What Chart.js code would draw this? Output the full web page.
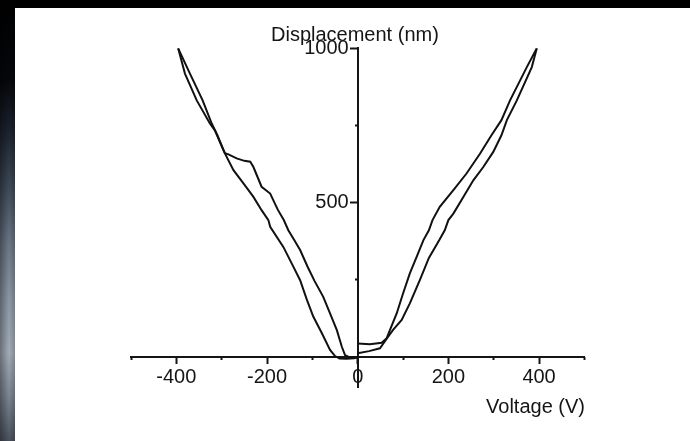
<!DOCTYPE html>
<html>
<head>
<meta charset="utf-8">
<script src="https://cdn.jsdelivr.net/npm/chart.js@4"></script>
<style>
  html, body { margin: 0; padding: 0; background: #000; }
  #stage { position: relative; width: 690px; height: 441px; overflow: hidden; background: #000; }
  #strip { position: absolute; left: 0; top: 0; width: 15px; height: 441px;
    background:
      linear-gradient(to right, rgba(0,0,0,0.35), rgba(0,0,0,0) 60%, rgba(0,0,0,0.2)),
      linear-gradient(to bottom, #000 0%, #05070b 18%, #1c2430 30%, #3d4756 42%, #6a7585 55%, #8c97a6 68%, #a2acb8 80%, #7a8492 90%, #4a525e 100%); }
  #panel { position: absolute; left: 15px; top: 8px; right: 0; bottom: 0; background: #fff; }
  #wrap { position: absolute; left: 0; top: 0; width: 690px; height: 441px; }
  .atitle { position: absolute; font-family: "Liberation Sans", Arial, sans-serif; font-size: 20px; line-height: 20px; color: #151515; white-space: nowrap; }
</style>
</head>
<body>
<div id="stage">
  <div id="strip"></div>
  <div id="panel"></div>
  <div id="wrap"><canvas id="c" width="690" height="441"></canvas></div>
  <div class="atitle" style="left:271px; top:24px;">Displacement (nm)</div>
  <div class="atitle" style="right:105px; top:396px;">Voltage (V)</div>
</div>
<script>
// ---- data (Voltage in V, Displacement in nm) ----
const leftOuterV = [-396, -381, -355, -326, -315, -296, -289, -274, -252, -230, -212, -197, -193, -164, -142, -127, -112, -98, -79, -61, -50, -40, -25, -8, 0];
const leftOuterD = [1000, 918, 831, 756, 734, 669, 648, 605, 562, 518, 475, 443, 421, 356, 292, 248, 184, 130, 76, 22, 2, -6, -7, -5, -2];

const leftInnerV = [-396, -370, -342, -322, -310, -293, -285, -267, -250, -237, -230, -212, -193, -186, -176, -163, -153, -140, -127, -110, -95, -76, -61, -46, -35, -28, -15, 0];
const leftInnerD = [1000, 918, 831, 756, 720, 660, 656, 643, 635, 632, 615, 551, 529, 507, 476, 443, 410, 378, 346, 290, 245, 194, 140, 86, 32, 5, -4, -2];

const rightUpperV = [0, 27, 53, 64, 71, 86, 100, 115, 130, 145, 157, 165, 181, 211, 240, 270, 295, 317, 336, 373, 395];
const rightUpperD = [43, 40, 45, 60, 86, 140, 205, 270, 324, 378, 410, 443, 486, 540, 594, 659, 718, 767, 831, 939, 1000];

const rightLowerV = [0, 25, 49, 64, 78, 97, 115, 137, 157, 180, 192, 200, 211, 233, 255, 277, 299, 317, 329, 351, 384, 395];
const rightLowerD = [11, 18, 27, 58, 87, 119, 173, 248, 320, 378, 410, 443, 464, 518, 572, 615, 664, 718, 767, 831, 939, 1000];

const xMajorTicks = [-400, -200, 0, 200, 400];
const xMinorTicks = [-500, -300, -100, 100, 300, 500];
const yMajorTicks = [500, 1000];
const yMinorTicks = [250, 750];

// ---- build ----
const zip = (xs, ys) => xs.map((x, i) => ({x: x, y: ys[i]}));
const lineStyle = { showLine: true, borderColor: '#111', borderWidth: 2, pointRadius: 0, tension: 0, fill: false };
const FONT = { family: '"Liberation Sans", Arial, sans-serif', size: 20 };
const INK = '#151515';

const axisCommon = (min, max) => ({ type: 'linear', min: min, max: max });

// y labels on an axis placed at x=0 sit flush against the line; push them past tick + padding
const Y_LABEL_SHIFT = 9;
function shiftYLabels(scale) {
  if (scale.__shifted) return;
  const base = Object.getPrototypeOf(scale)._computeLabelItems;
  scale._computeLabelItems = function (ca) {
    const items = base.call(this, ca);
    items.forEach(it => { it.options.translation[0] -= Y_LABEL_SHIFT; });
    return items;
  };
  scale._labelItems = null;
  scale.__shifted = true;
}

new Chart(document.getElementById('c'), {
  type: 'scatter',
  data: {
    datasets: [
      Object.assign({ label: 'left outer', data: zip(leftOuterV, leftOuterD) }, lineStyle),
      Object.assign({ label: 'left inner', data: zip(leftInnerV, leftInnerD) }, lineStyle),
      Object.assign({ label: 'right upper', data: zip(rightUpperV, rightUpperD) }, lineStyle),
      Object.assign({ label: 'right lower', data: zip(rightLowerV, rightLowerD) }, lineStyle)
    ]
  },
  options: {
    responsive: false,
    animation: false,
    events: [],
    layout: { padding: { left: 131, right: 105.6, top: 48.3, bottom: 53.5 } },
    plugins: { legend: { display: false }, tooltip: { enabled: false } },
    scales: {
      x: Object.assign(axisCommon(-500, 500), {
        position: { y: 0 },
        afterBuildTicks: s => { s.ticks = xMajorTicks.map(v => ({ value: v })); },
        grid: { drawOnChartArea: false, drawTicks: true, tickLength: 6, tickWidth: 2, tickColor: INK },
        border: { display: true, color: INK, width: 2 },
        ticks: { color: INK, font: FONT, padding: 3, maxRotation: 0, autoSkip: false, callback: v => String(v) }
      }),
      x2: Object.assign(axisCommon(-500, 500), {
        position: { y: 0 },
        afterBuildTicks: s => { s.ticks = xMinorTicks.map(v => ({ value: v })); },
        grid: { drawOnChartArea: false, drawTicks: true, tickLength: 3, tickWidth: 2, tickColor: INK },
        border: { display: false },
        ticks: { display: false }
      }),
      y: Object.assign(axisCommon(-100, 1000), {
        position: { x: 0 },
        afterBuildTicks: s => { s.ticks = yMajorTicks.map(v => ({ value: v })); },
        afterUpdate: shiftYLabels,
        grid: { drawOnChartArea: false, drawTicks: true, tickLength: 7, tickWidth: 2, tickColor: INK },
        border: { display: true, color: INK, width: 2 },
        ticks: { color: INK, font: FONT, padding: 2, autoSkip: false, callback: v => String(v) }
      }),
      y2: Object.assign(axisCommon(-100, 1000), {
        position: { x: 0 },
        afterBuildTicks: s => { s.ticks = yMinorTicks.map(v => ({ value: v })); },
        grid: { drawOnChartArea: false, drawTicks: true, tickLength: 3, tickWidth: 2, tickColor: INK },
        border: { display: false },
        ticks: { display: false }
      })
    }
  }
});
</script>
</body>
</html>
